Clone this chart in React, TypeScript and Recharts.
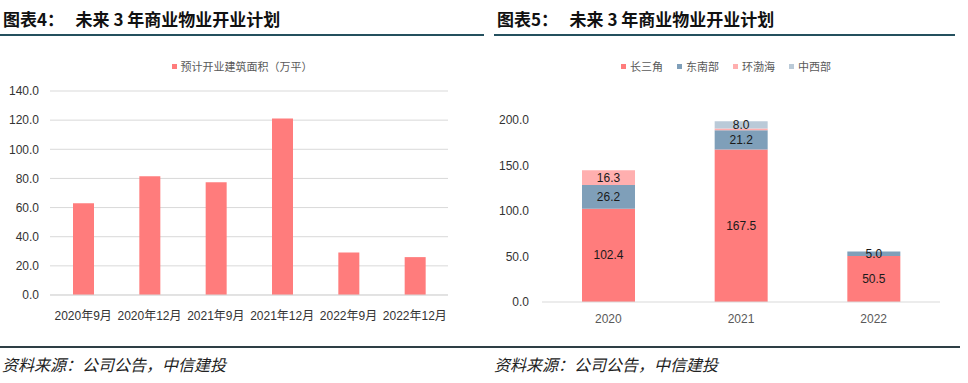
import { BarChart, Bar, XAxis, YAxis, CartesianGrid, Legend, LabelList } from "recharts";

// 图表4 预计开业建筑面积（万平）
const openMonths = ["2020年9月", "2020年12月", "2021年9月", "2021年12月", "2022年9月", "2022年12月"];
const openArea = [63.0, 81.5, 77.4, 121.1, 29.2, 26.0];
const areaTicks = [0, 20, 40, 60, 80, 100, 120, 140];

// 图表5 分区域
const years = ["2020", "2021", "2022"];
const yrd = [102.4, 167.5, 50.5];
const southeast = [26.2, 21.2, 5.0];
const bohai = [16.3, 2.0, 0];
const midwest = [0, 8.0, 0];
const regionTicks = [0, 50, 100, 150, 200];

const regions = [
  { key: "yrd", name: "长三角", color: "#FF7C7C" },
  { key: "southeast", name: "东南部", color: "#7F9FB9" },
  { key: "bohai", name: "环渤海", color: "#FFAFAF" },
  { key: "midwest", name: "中西部", color: "#BACAD8" },
];

const areaData = openMonths.map((m, i) => ({ month: m, area: openArea[i] }));
const regionData = years.map((y, i) => ({
  year: y,
  yrd: yrd[i] || null,
  southeast: southeast[i] || null,
  bohai: bohai[i] || null,
  midwest: midwest[i] || null,
}));

const CJK = '"Liberation Sans", Arial, "Noto Sans CJK SC", sans-serif';

function LegendBox({ items }: { items: { name: string; color: string }[] }) {
  return (
    <div style={{ display: "flex", justifyContent: "center", gap: 14, fontSize: 11, color: "#595959", fontFamily: CJK }}>
      {items.map((it) => (
        <span key={it.name} style={{ display: "flex", alignItems: "center" }}>
          <span style={{ width: 5, height: 5, background: it.color, marginRight: 4, display: "inline-block" }} />
          {it.name}
        </span>
      ))}
    </div>
  );
}

function SegLabel(props: any) {
  const { x, y, width, height, value } = props;
  if (value == null || value < 3) return null;
  return (
    <text
      x={x + width / 2}
      y={y + height / 2}
      textAnchor="middle"
      dominantBaseline="central"
      fontSize={12}
      fill="#1a1a1a"
      fontFamily={CJK}
    >
      {Number(value).toFixed(1)}
    </text>
  );
}

function Title({ left, num, width }: { left: number; num: number; width: number }) {
  return (
    <div style={{ position: "absolute", left, top: 0, width }}>
      <div
        style={{
          position: "absolute",
          left: 3,
          top: 8,
          fontSize: 17,
          fontWeight: "bold",
          fontFamily: '"Noto Sans CJK SC", sans-serif',
          color: "#111",
          whiteSpace: "pre",
          lineHeight: "22px",
        }}
      >
        {`图表${num}：   未来 3 年商业物业开业计划`}
      </div>
      <div style={{ position: "absolute", left: 0, top: 34, width, height: 2, background: "#24505E" }} />
    </div>
  );
}

export default function App() {
  return (
    <div style={{ position: "absolute", left: 0, top: 0, width: 968, height: 383, background: "#fff", overflow: "hidden" }}>
      <Title left={0} num={4} width={484} />
      <Title left={494} num={5} width={461} />

      <div style={{ position: "absolute", left: 0, top: 0 }}>
        <BarChart width={484} height={330} data={areaData} margin={{ top: 75, right: 36, bottom: 0, left: 10 }}>
          <Legend
            verticalAlign="top"
            wrapperStyle={{ top: 58, left: 0, width: 484 }}
            content={() => <LegendBox items={[{ name: "预计开业建筑面积（万平）", color: "#FF7C7C" }]} />}
          />
          <CartesianGrid vertical={false} stroke="#D9D9D9" />
          <XAxis
            dataKey="month"
            height={35}
            axisLine={{ stroke: "#D9D9D9" }}
            tickLine={false}
            tick={{ fill: "#333", fontSize: 12, fontFamily: CJK }}
            tickMargin={10}
            interval={0}
          />
          <YAxis
            width={40}
            domain={[0, 140]}
            ticks={areaTicks}
            axisLine={false}
            tickLine={false}
            tickMargin={5}
            tick={{ fill: "#333", fontSize: 12, fontFamily: CJK }}
            tickFormatter={(v) => Number(v).toFixed(1)}
          />
          <Bar dataKey="area" name="预计开业建筑面积（万平）" fill="#FF7C7C" barSize={21} isAnimationActive={false} />
        </BarChart>
      </div>

      <div style={{ position: "absolute", left: 484, top: 0 }}>
        <BarChart width={484} height={330} data={regionData} margin={{ top: 104, right: 28, bottom: 0, left: 8 }}>
          <Legend
            verticalAlign="top"
            wrapperStyle={{ top: 58, left: 0, width: 484 }}
            content={() => <LegendBox items={regions} />}
          />
          <XAxis
            dataKey="year"
            height={28}
            axisLine={{ stroke: "#D9D9D9" }}
            tickLine={false}
            tick={{ fill: "#595959", fontSize: 12, fontFamily: CJK }}
            tickMargin={6}
          />
          <YAxis
            width={50}
            domain={[0, 200]}
            ticks={regionTicks}
            axisLine={false}
            tickLine={false}
            tickMargin={7}
            tick={{ fill: "#333", fontSize: 12, fontFamily: CJK }}
            tickFormatter={(v) => Number(v).toFixed(1)}
          />
          {regions.map((r) => (
            <Bar key={r.key} dataKey={r.key} name={r.name} stackId="a" fill={r.color} barSize={53} isAnimationActive={false}>
              <LabelList dataKey={r.key} content={SegLabel} />
            </Bar>
          ))}
        </BarChart>
      </div>

      <div style={{ position: "absolute", left: 0, top: 346, width: 960, height: 1.5, background: "#2E3F45" }} />
      <div
        style={{
          position: "absolute",
          left: 2,
          top: 354,
          fontSize: 16,
          fontStyle: "italic",
          fontFamily: '"Noto Sans CJK SC", sans-serif',
          color: "#222",
          lineHeight: "20px",
        }}
      >
        资料来源：公司公告，中信建投
      </div>
      <div
        style={{
          position: "absolute",
          left: 494,
          top: 354,
          fontSize: 16,
          fontStyle: "italic",
          fontFamily: '"Noto Sans CJK SC", sans-serif',
          color: "#222",
          lineHeight: "20px",
        }}
      >
        资料来源：公司公告，中信建投
      </div>
    </div>
  );
}
